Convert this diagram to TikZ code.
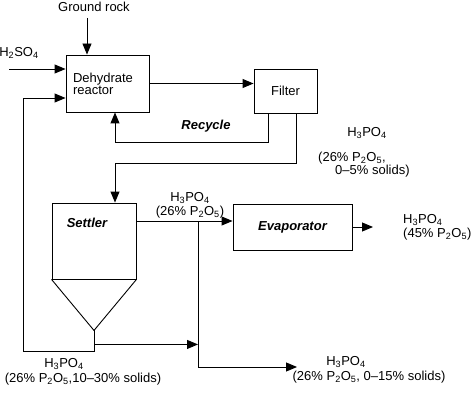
\documentclass[tikz,border=0pt]{standalone}
\usepackage{fontspec}
\setmainfont{Liberation Sans}
\usetikzlibrary{arrows.meta}
\usetikzlibrary{positioning}

\tikzset{
  unitbox/.style={draw, line width=0.9pt, inner sep=0pt},
  pipe/.style={line width=0.9pt},
  flow/.style={line width=0.9pt, -{Triangle[length=11pt,width=9pt]}},
  stream/.style={inner sep=0pt, font=\fontsize{13}{14}\selectfont},
  unittitle/.style={inner sep=0pt, font=\fontsize{13}{14}\selectfont\bfseries\itshape}
}

\begin{document}
\begin{tikzpicture}[x=1pt,y=-1pt]
  \useasboundingbox (0,0) rectangle (474,401);
  % process units
  \node[unitbox, text width=69pt, inner xsep=7pt, minimum height=57pt, align=left,
        font=\fontsize{13}{11}\selectfont] (reactor) at (107.5,83.5) {Dehydrate\\reactor};
  \node[unitbox, stream, minimum width=63pt, minimum height=44pt] (filter) at (285.5,91) {Filter};
  \node[unitbox, minimum width=84pt, minimum height=76pt] (settler) at (94,241) {};
  \node[unittitle] (settlertitle) at (87,223) {Settler};
  \coordinate (apex) at ([yshift=-51pt]settler.south);
  \draw[pipe] (settler.south west) -- (apex) -- (settler.south east);
  \node[unitbox, unittitle, minimum width=119pt, minimum height=46pt] (evap) at (292.5,227) {Evaporator};

  % stream labels
  \node[stream] (rock) at (94,7) {Ground rock};
  \node[stream] (acid) at (19,53) {H\textsubscript{2}SO\textsubscript{4}};
  \node[unittitle] (recycle) at (206,126) {Recycle};
  \node[stream] (filtrate) at (367,133) {H\textsubscript{3}PO\textsubscript{4}};
  \node[stream, align=left, anchor=west, font=\fontsize{13}{13}\selectfont] (filtratemix) at (318,164.5)
    {(26\% P\textsubscript{2}O\textsubscript{5},\\\hspace*{17pt}0--5\% solids)};
  \node[stream, align=center] (overflow) at (190,205) {H\textsubscript{3}PO\textsubscript{4}\\(26\% P\textsubscript{2}O\textsubscript{5})};
  \node[stream, align=left, anchor=west] (product) at (403,227) {H\textsubscript{3}PO\textsubscript{4}\\(45\% P\textsubscript{2}O\textsubscript{5})};
  \node[stream] (underflow) at (64,364) {H\textsubscript{3}PO\textsubscript{4}};
  \node[stream] (underflowmix) at (83,379) {(26\% P\textsubscript{2}O\textsubscript{5},10--30\% solids)};
  \node[stream] (bleed) at (346,362) {H\textsubscript{3}PO\textsubscript{4}};
  \node[stream] (bleedmix) at (369,377) {(26\% P\textsubscript{2}O\textsubscript{5}, 0--15\% solids)};

  % connectors
  \coordinate (rockin) at (87,18);
  \coordinate (acidin) at (9,69);
  \coordinate (split) at (198,221);
  \coordinate (evapout) at (373,227);
  \coordinate (bleedout) at (297,367);
  \coordinate (loop) at (23,98);
  \coordinate (under) at ([yshift=-14pt]apex);
  \draw[flow] (rockin) -- (rockin |- reactor.north);
  \draw[flow] (acidin) -- (acidin -| reactor.west);
  \draw[flow] (reactor.east) -- (reactor.east -| filter.west);
  \draw[flow] ([xshift=-17.5pt]filter.south) -- ++(0,29) -| ([xshift=7.5pt]reactor.south);
  \draw[flow] ([xshift=10.5pt]filter.south) -- ++(0,50) -| ([xshift=21pt]settler.north);
  \draw[flow] (split -| settler.east) -- (split -| evap.west);
  \draw[flow] (evap.east) -- (evapout);
  \draw[flow] (split) |- (bleedout);
  \draw[flow] (apex) -- ++(0,21) -| (loop) -- (loop -| reactor.west);
  \draw[flow] (under) -- (under -| split);
\end{tikzpicture}
\end{document}
